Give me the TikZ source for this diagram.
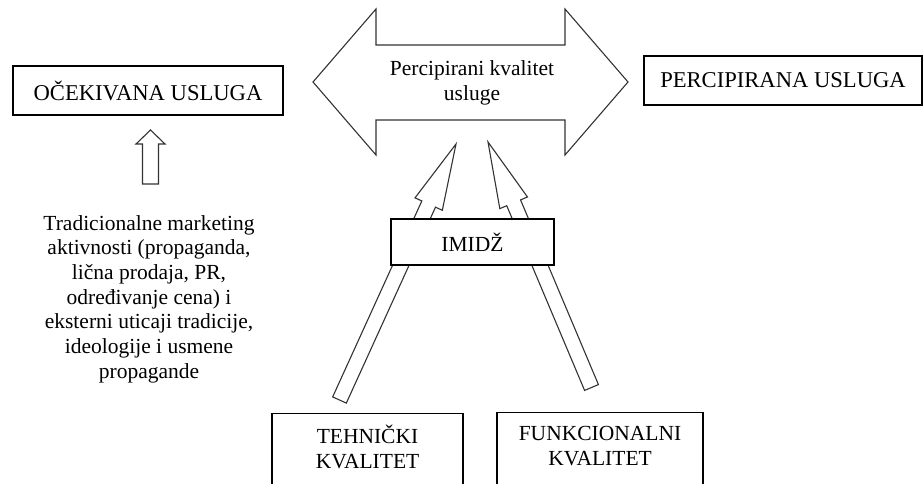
\documentclass[tikz,border=0pt]{standalone}
\usepackage{fontspec}
\setmainfont{Liberation Serif}
\usetikzlibrary{calc}

% block arrow from a tail point to a tip point, drawn as one outline
\newcommand\tiltarrow[2]{%
  \coordinate (#1-b) at ($(#2)!66pt!(#1)$);
  \draw[blockarrow]
    ($(#1)!7.5pt!90:(#2)$) -- ($(#1-b)!7.5pt!90:(#2)$) --
    ($(#1-b)!15pt!90:(#2)$) -- (#2) --
    ($(#1-b)!15pt!-90:(#2)$) -- ($(#1-b)!7.5pt!-90:(#2)$) --
    ($(#1)!7.5pt!-90:(#2)$) -- cycle;}

\begin{document}
\begin{tikzpicture}[x=1pt,y=-1pt,
  txt/.style={font=\fontsize{21.5}{24.7}\selectfont, align=center, inner sep=0pt},
  bigtxt/.style={txt, font=\fontsize{22.6}{26}\selectfont},
  frame/.style={draw=black, line width=1.3pt, fill=white, inner sep=0pt},
  blockarrow/.style={draw=black!80, line width=1.1pt, fill=white, line join=miter}]
\useasboundingbox (0,0) rectangle (923,484);
\clip (0,0) rectangle (923,484);

% central double arrow
\draw[blockarrow] (313,82) -- (376,9) -- (376,45) -- (565,45) -- (565,9)
  -- (628,82) -- (565,155) -- (565,120) -- (376,120) -- (376,155) -- cycle;
\node[txt] (pk) at (472,83) {Percipirani kvalitet\\usluge};

% side boxes
\node[frame, bigtxt, minimum width=270, minimum height=49] (oce) at (148,90.5) {OČEKIVANA USLUGA};
\node[frame, bigtxt, minimum width=278, minimum height=49] (per) at (783,80.5) {PERCIPIRANA USLUGA};

% small upward arrow and the text below it
\draw[blockarrow] (150.5,130) -- (165,144) -- (158.5,144) -- (158.5,184)
  -- (142.5,184) -- (142.5,144) -- (136,144) -- cycle;
\node[txt] (trad) at (149,299) {Tradicionalne marketing\\aktivnosti (propaganda,\\lična prodaja, PR,\\određivanje cena) i\\eksterni uticaji tradicije,\\ideologije i usmene\\propagande};

% bottom boxes
\node[frame, minimum width=191, minimum height=100, anchor=north] (tehbox) at (367.5,413) {};
\node[txt] (teh) at ($(tehbox.north)+(0,34)$) {TEHNIČKI\\KVALITET};
\node[frame, minimum width=206, minimum height=100, anchor=north] (funbox) at (600,412) {};
\node[txt] (fun) at ($(funbox.north)+(0,34)$) {FUNKCIONALNI\\KVALITET};

% tilted arrows from the bottom boxes towards the double arrow
\coordinate (ta) at (339.5,400);
\coordinate (pa) at (456,144);
\coordinate (tb) at (591.5,387.5);
\coordinate (pb) at (488,142);
\tiltarrow{ta}{pa}
\tiltarrow{tb}{pb}

% image box on top of the arrows
\node[frame, txt, minimum width=163, minimum height=46] (imd) at (472.5,242) {IMIDŽ};
\end{tikzpicture}
\end{document}
